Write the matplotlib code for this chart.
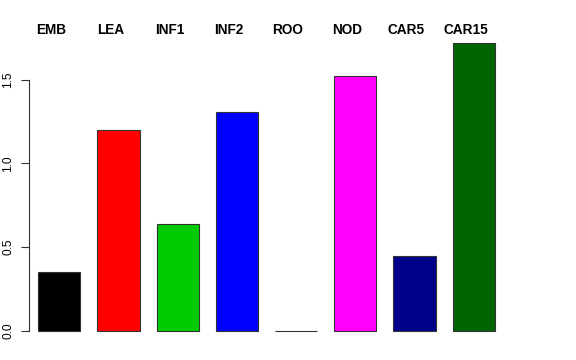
#!/usr/bin/env python3
"""Bar chart of mean values per tissue group, base-R barplot look."""

import matplotlib

matplotlib.use("Agg")
import matplotlib.pyplot as plt

CATEGORIES = ["EMB", "LEA", "INF1", "INF2", "ROO", "NOD", "CAR5", "CAR15"]
VALUES = [0.35, 1.20, 0.64, 1.305, 0.0, 1.52, 0.445, 1.72]
COLORS = ["black", "red", "#00CD00", "blue", "cyan", "magenta", "#00008B", "#006400"]
YTICKS = [0.0, 0.5, 1.0, 1.5]
YTICK_LABELS = ["0.0", "0.5", "1.0", "1.5"]

plt.rcParams["font.family"] = ["Liberation Sans", "DejaVu Sans"]

fig = plt.figure(figsize=(5.76, 3.6), dpi=100)
# axes placed so zero sits at y=330.7px and the left spine at x=29.3px
ax = fig.add_axes([29.3 / 576, 29.3 / 360, (560 - 29.3) / 576, 294.4 / 360])

xs = list(range(len(CATEGORIES)))
bars = ax.bar(xs, VALUES, width=0.71, color=COLORS, edgecolor="#333333", linewidth=0.8)
for bar in bars:
    # the zero-height ROO bar sits on the axes edge; keep its outline visible
    bar.set_clip_on(False)

ax.set_xlim(-0.507, 8.458)
ax.set_ylim(0, 1.76)

for x, name in zip(xs, CATEGORIES):
    ax.text(x - 0.14, 1.797, name, ha="center", va="center",
            fontsize=9.8, fontweight="bold", clip_on=False)

for side in ("top", "right", "bottom"):
    ax.spines[side].set_visible(False)
ax.spines["left"].set_bounds(0, 1.5)
ax.spines["left"].set_linewidth(0.8)
ax.spines["left"].set_color("#333333")
ax.set_xticks([])
ax.set_yticks(YTICKS)
ax.set_yticklabels(YTICK_LABELS, rotation=90, va="center", fontsize=8.6)
ax.tick_params(axis="y", length=6, width=0.8, color="#333333", pad=5)

fig.savefig("out.png", dpi=100)
